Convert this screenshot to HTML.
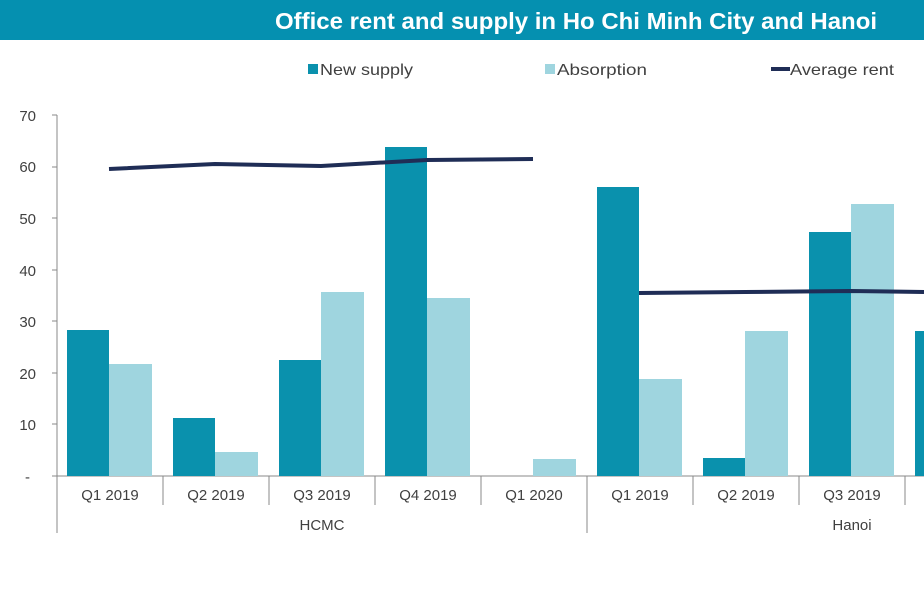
<!DOCTYPE html>
<html><head><style>
body{margin:0;background:#fff;width:924px;height:594px;overflow:hidden;font-family:"Liberation Sans",sans-serif}
</style></head><body>
<svg width="924" height="594" xmlns="http://www.w3.org/2000/svg" font-family="Liberation Sans, sans-serif">
<rect x="0" y="0" width="924" height="40" fill="#0590b0"/>
<text x="275" y="29" textLength="602" lengthAdjust="spacingAndGlyphs" fill="#fff" font-size="23" font-weight="bold">Office rent and supply in Ho Chi Minh City and Hanoi</text>
<g font-size="16" fill="#404040">
<rect x="308" y="64" width="10" height="10" fill="#0a91ad"/><text x="320" y="75" textLength="93" lengthAdjust="spacingAndGlyphs">New supply</text>
<rect x="545" y="64" width="10" height="10" fill="#9fd5df"/><text x="557" y="75" textLength="90" lengthAdjust="spacingAndGlyphs">Absorption</text>
<rect x="771" y="67" width="19" height="4" fill="#1f2d56"/><text x="790" y="75" textLength="104" lengthAdjust="spacingAndGlyphs">Average rent</text>
</g>
<g font-size="15" fill="#404040" text-anchor="end">
<text x="36" y="121">70</text><text x="36" y="172">60</text><text x="36" y="224">50</text><text x="36" y="276">40</text><text x="36" y="327">30</text><text x="36" y="379">20</text><text x="36" y="430">10</text><text x="30" y="482">-</text>
</g>
<g stroke="#888" stroke-width="1">
<line x1="57" y1="115" x2="57" y2="476"/>
<line x1="52" y1="115" x2="57" y2="115"/><line x1="52" y1="167" x2="57" y2="167"/><line x1="52" y1="218" x2="57" y2="218"/><line x1="52" y1="270" x2="57" y2="270"/><line x1="52" y1="321" x2="57" y2="321"/><line x1="52" y1="373" x2="57" y2="373"/><line x1="52" y1="424" x2="57" y2="424"/><line x1="52" y1="476" x2="57" y2="476"/>
<line x1="57" y1="476" x2="924" y2="476"/>
<line x1="57" y1="476" x2="57" y2="533"/><line x1="163" y1="476" x2="163" y2="505"/><line x1="269" y1="476" x2="269" y2="505"/><line x1="375" y1="476" x2="375" y2="505"/><line x1="481" y1="476" x2="481" y2="505"/><line x1="587" y1="476" x2="587" y2="533"/><line x1="693" y1="476" x2="693" y2="505"/><line x1="799" y1="476" x2="799" y2="505"/><line x1="905" y1="476" x2="905" y2="505"/>
</g>
<g fill="#0a91ad">
<rect x="67" y="330" width="42" height="146"/><rect x="173" y="418" width="42" height="58"/><rect x="279" y="360" width="42" height="116"/><rect x="385" y="147" width="42" height="329"/>
<rect x="597" y="187" width="42" height="289"/><rect x="703" y="458" width="42" height="18"/><rect x="809" y="232" width="42" height="244"/><rect x="915" y="331" width="42" height="145"/>
</g>
<g fill="#9fd5df">
<rect x="109" y="364" width="43" height="112"/><rect x="215" y="452" width="43" height="24"/><rect x="321" y="292" width="43" height="184"/><rect x="427" y="298" width="43" height="178"/><rect x="533" y="459" width="43" height="17"/>
<rect x="639" y="379" width="43" height="97"/><rect x="745" y="331" width="43" height="145"/><rect x="851" y="204" width="43" height="272"/>
</g>
<g fill="none" stroke="#1f2d56" stroke-width="4" stroke-linejoin="round">
<polyline points="109,169 215,164 321,166 427,160 533,159"/>
<polyline points="639,293 745,292 851,291 924,292"/>
</g>
<g font-size="15" fill="#404040" text-anchor="middle">
<text x="110" y="500">Q1 2019</text><text x="216" y="500">Q2 2019</text><text x="322" y="500">Q3 2019</text><text x="428" y="500">Q4 2019</text><text x="534" y="500">Q1 2020</text>
<text x="640" y="500">Q1 2019</text><text x="746" y="500">Q2 2019</text><text x="852" y="500">Q3 2019</text>
<text x="322" y="530">HCMC</text><text x="852" y="530">Hanoi</text>
</g>
</svg>
</body></html>
